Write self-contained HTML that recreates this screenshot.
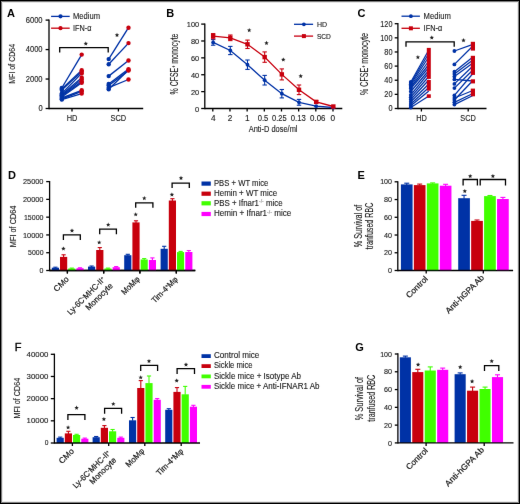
<!DOCTYPE html>
<html><head><meta charset="utf-8"><style>
html,body{margin:0;padding:0;background:#fff;}
body{width:520px;height:504px;overflow:hidden;}
.wrap{position:absolute;left:0;top:0;width:520px;height:504px;box-shadow:inset 1px 1px 0 #000,inset -1px -1px 0 #000,inset 2px 2px 0 #7a7a7a,inset -2px -2px 0 #808080,inset 3px 3px 0 #e4e4e4,inset -3px -3px 0 #e8e8e8;}
svg{position:absolute;left:0;top:0;will-change:transform;}
text{font-family:"Liberation Sans",sans-serif;}
</style></head><body>
<svg width="520" height="504" viewBox="0 0 520 504">
<defs><filter id="soft" x="0" y="0" width="520" height="504" filterUnits="userSpaceOnUse"><feConvolveMatrix order="3" kernelMatrix="0.0016 0.0371 0.0016 0.0371 0.8450 0.0371 0.0016 0.0371 0.0016" edgeMode="none"/></filter></defs>
<g filter="url(#soft)">
<text x="7" y="16.8" font-size="11" font-weight="bold" fill="#000">A</text>
<line x1="49" y1="19.45" x2="49" y2="109.15" stroke="#000" stroke-width="1.3"/>
<line x1="45.6" y1="20.1" x2="49" y2="20.1" stroke="#000" stroke-width="1.3"/>
<text x="42.6" y="22.95" font-size="8.4" text-anchor="end" textLength="16.9" lengthAdjust="spacingAndGlyphs" fill="#1a1a1a" stroke="#1a1a1a" stroke-width="0.12">6000</text>
<line x1="45.6" y1="49.57" x2="49" y2="49.57" stroke="#000" stroke-width="1.3"/>
<text x="42.6" y="52.42" font-size="8.4" text-anchor="end" textLength="16.9" lengthAdjust="spacingAndGlyphs" fill="#1a1a1a" stroke="#1a1a1a" stroke-width="0.12">4000</text>
<line x1="45.6" y1="79.03" x2="49" y2="79.03" stroke="#000" stroke-width="1.3"/>
<text x="42.6" y="81.88" font-size="8.4" text-anchor="end" textLength="16.9" lengthAdjust="spacingAndGlyphs" fill="#1a1a1a" stroke="#1a1a1a" stroke-width="0.12">2000</text>
<line x1="45.6" y1="108.5" x2="49" y2="108.5" stroke="#000" stroke-width="1.3"/>
<text x="42.6" y="111.35" font-size="8.4" text-anchor="end" textLength="4.2" lengthAdjust="spacingAndGlyphs" fill="#1a1a1a" stroke="#1a1a1a" stroke-width="0.12">0</text>
<line x1="49" y1="108.5" x2="143.2" y2="108.5" stroke="#000" stroke-width="1.3"/>
<line x1="72" y1="108.5" x2="72" y2="111.5" stroke="#000" stroke-width="1.3"/>
<line x1="118.4" y1="108.5" x2="118.4" y2="111.5" stroke="#000" stroke-width="1.3"/>
<text x="72" y="120.8" font-size="8.4" text-anchor="middle" textLength="10.7" lengthAdjust="spacingAndGlyphs" fill="#1a1a1a" stroke="#1a1a1a" stroke-width="0.12">HD</text>
<text x="118.4" y="120.8" font-size="8.4" text-anchor="middle" textLength="15.7" lengthAdjust="spacingAndGlyphs" fill="#1a1a1a" stroke="#1a1a1a" stroke-width="0.12">SCD</text>
<text x="14.9" y="63.8" font-size="9" text-anchor="middle" textLength="40" lengthAdjust="spacingAndGlyphs" transform="rotate(-90 14.9 63.8)" fill="#1a1a1a" stroke="#1a1a1a" stroke-width="0.12">MFI of CD64</text>
<line x1="51.1" y1="16.4" x2="69.7" y2="16.4" stroke="#0033a6" stroke-width="1.3"/>
<circle cx="60.5" cy="16.3" r="2.1" fill="#0033a6"/>
<text x="73" y="18.7" font-size="8.8" textLength="27" lengthAdjust="spacingAndGlyphs" fill="#1a1a1a" stroke="#1a1a1a" stroke-width="0.12">Medium</text>
<line x1="51.1" y1="28.2" x2="69.7" y2="28.2" stroke="#c8000f" stroke-width="1.3"/>
<circle cx="60.5" cy="28.2" r="2.1" fill="#c8000f"/>
<text x="73" y="30.7" font-size="8.8" textLength="18.5" lengthAdjust="spacingAndGlyphs" fill="#1a1a1a" stroke="#1a1a1a" stroke-width="0.12">IFN-&#945;</text>
<path d="M59.7,52.4V47.7H108.2V52.4" stroke="#000" stroke-width="1.3" fill="none"/>
<polygon points="85.80,41.40 86.41,42.86 87.99,42.99 86.78,44.02 87.15,45.56 85.80,44.73 84.45,45.56 84.82,44.02 83.61,42.99 85.19,42.86" fill="#222"/>
<polygon points="117.00,32.80 117.61,34.26 119.19,34.39 117.98,35.42 118.35,36.96 117.00,36.13 115.65,36.96 116.02,35.42 114.81,34.39 116.39,34.26" fill="#222"/>
<line x1="61.8" y1="88" x2="81.7" y2="54.6" stroke="#0033a6" stroke-width="1.35"/>
<line x1="61.8" y1="89" x2="81.7" y2="70.2" stroke="#0033a6" stroke-width="1.35"/>
<line x1="61.8" y1="90" x2="81.7" y2="71.8" stroke="#0033a6" stroke-width="1.35"/>
<line x1="61.8" y1="93.5" x2="81.7" y2="73.4" stroke="#0033a6" stroke-width="1.35"/>
<line x1="61.8" y1="94.5" x2="81.7" y2="77.8" stroke="#0033a6" stroke-width="1.35"/>
<line x1="61.8" y1="95.5" x2="81.7" y2="79.4" stroke="#0033a6" stroke-width="1.35"/>
<line x1="61.8" y1="96" x2="81.7" y2="81.6" stroke="#0033a6" stroke-width="1.35"/>
<line x1="61.8" y1="97" x2="81.7" y2="82.7" stroke="#0033a6" stroke-width="1.35"/>
<line x1="61.8" y1="98" x2="81.7" y2="90.3" stroke="#0033a6" stroke-width="1.35"/>
<line x1="61.8" y1="99" x2="81.7" y2="91.4" stroke="#0033a6" stroke-width="1.35"/>
<line x1="61.8" y1="99.6" x2="81.7" y2="93.6" stroke="#0033a6" stroke-width="1.35"/>
<circle cx="61.8" cy="88" r="2.2" fill="#0033a6"/>
<circle cx="61.8" cy="89" r="2.2" fill="#0033a6"/>
<circle cx="61.8" cy="90" r="2.2" fill="#0033a6"/>
<circle cx="61.8" cy="93.5" r="2.2" fill="#0033a6"/>
<circle cx="61.8" cy="94.5" r="2.2" fill="#0033a6"/>
<circle cx="61.8" cy="95.5" r="2.2" fill="#0033a6"/>
<circle cx="61.8" cy="96" r="2.2" fill="#0033a6"/>
<circle cx="61.8" cy="97" r="2.2" fill="#0033a6"/>
<circle cx="61.8" cy="98" r="2.2" fill="#0033a6"/>
<circle cx="61.8" cy="99" r="2.2" fill="#0033a6"/>
<circle cx="61.8" cy="99.6" r="2.2" fill="#0033a6"/>
<circle cx="81.7" cy="54.6" r="2.2" fill="#c8000f"/>
<circle cx="81.7" cy="70.2" r="2.2" fill="#c8000f"/>
<circle cx="81.7" cy="71.8" r="2.2" fill="#c8000f"/>
<circle cx="81.7" cy="73.4" r="2.2" fill="#c8000f"/>
<circle cx="81.7" cy="77.8" r="2.2" fill="#c8000f"/>
<circle cx="81.7" cy="79.4" r="2.2" fill="#c8000f"/>
<circle cx="81.7" cy="81.6" r="2.2" fill="#c8000f"/>
<circle cx="81.7" cy="82.7" r="2.2" fill="#c8000f"/>
<circle cx="81.7" cy="90.3" r="2.2" fill="#c8000f"/>
<circle cx="81.7" cy="91.4" r="2.2" fill="#c8000f"/>
<circle cx="81.7" cy="93.6" r="2.2" fill="#c8000f"/>
<line x1="108.7" y1="59.1" x2="128.5" y2="27.7" stroke="#0033a6" stroke-width="1.35"/>
<line x1="108.7" y1="64.2" x2="128.5" y2="43.1" stroke="#0033a6" stroke-width="1.35"/>
<line x1="108.7" y1="76.1" x2="128.5" y2="60.5" stroke="#0033a6" stroke-width="1.35"/>
<line x1="108.7" y1="84" x2="128.5" y2="69.1" stroke="#0033a6" stroke-width="1.35"/>
<line x1="108.7" y1="85.5" x2="128.5" y2="70.6" stroke="#0033a6" stroke-width="1.35"/>
<line x1="108.7" y1="87.7" x2="128.5" y2="79.5" stroke="#0033a6" stroke-width="1.35"/>
<line x1="108.7" y1="89.2" x2="128.5" y2="70" stroke="#0033a6" stroke-width="1.35"/>
<circle cx="108.7" cy="59.1" r="2.2" fill="#0033a6"/>
<circle cx="108.7" cy="64.2" r="2.2" fill="#0033a6"/>
<circle cx="108.7" cy="76.1" r="2.2" fill="#0033a6"/>
<circle cx="108.7" cy="84" r="2.2" fill="#0033a6"/>
<circle cx="108.7" cy="85.5" r="2.2" fill="#0033a6"/>
<circle cx="108.7" cy="87.7" r="2.2" fill="#0033a6"/>
<circle cx="108.7" cy="89.2" r="2.2" fill="#0033a6"/>
<circle cx="128.5" cy="27.7" r="2.2" fill="#c8000f"/>
<circle cx="128.5" cy="43.1" r="2.2" fill="#c8000f"/>
<circle cx="128.5" cy="60.5" r="2.2" fill="#c8000f"/>
<circle cx="128.5" cy="69.1" r="2.2" fill="#c8000f"/>
<circle cx="128.5" cy="70.6" r="2.2" fill="#c8000f"/>
<circle cx="128.5" cy="79.5" r="2.2" fill="#c8000f"/>
<circle cx="128.5" cy="70" r="2.2" fill="#c8000f"/>
<text x="166.2" y="16.6" font-size="11" font-weight="bold" fill="#000">B</text>
<line x1="204.8" y1="23.45" x2="204.8" y2="109.15" stroke="#000" stroke-width="1.3"/>
<line x1="201.2" y1="24.1" x2="204.8" y2="24.1" stroke="#000" stroke-width="1.3"/>
<text x="199.2" y="27.1" font-size="7.8" text-anchor="end" textLength="12.4" lengthAdjust="spacingAndGlyphs" fill="#1a1a1a" stroke="#1a1a1a" stroke-width="0.12">100</text>
<line x1="201.2" y1="40.98" x2="204.8" y2="40.98" stroke="#000" stroke-width="1.3"/>
<text x="199.2" y="43.98" font-size="7.8" text-anchor="end" textLength="8.3" lengthAdjust="spacingAndGlyphs" fill="#1a1a1a" stroke="#1a1a1a" stroke-width="0.12">80</text>
<line x1="201.2" y1="57.86" x2="204.8" y2="57.86" stroke="#000" stroke-width="1.3"/>
<text x="199.2" y="60.86" font-size="7.8" text-anchor="end" textLength="8.3" lengthAdjust="spacingAndGlyphs" fill="#1a1a1a" stroke="#1a1a1a" stroke-width="0.12">60</text>
<line x1="201.2" y1="74.74" x2="204.8" y2="74.74" stroke="#000" stroke-width="1.3"/>
<text x="199.2" y="77.74" font-size="7.8" text-anchor="end" textLength="8.3" lengthAdjust="spacingAndGlyphs" fill="#1a1a1a" stroke="#1a1a1a" stroke-width="0.12">40</text>
<line x1="201.2" y1="91.62" x2="204.8" y2="91.62" stroke="#000" stroke-width="1.3"/>
<text x="199.2" y="94.62" font-size="7.8" text-anchor="end" textLength="8.3" lengthAdjust="spacingAndGlyphs" fill="#1a1a1a" stroke="#1a1a1a" stroke-width="0.12">20</text>
<line x1="201.2" y1="108.5" x2="204.8" y2="108.5" stroke="#000" stroke-width="1.3"/>
<text x="199.2" y="111.5" font-size="7.8" text-anchor="end" textLength="4.2" lengthAdjust="spacingAndGlyphs" fill="#1a1a1a" stroke="#1a1a1a" stroke-width="0.12">0</text>
<line x1="204.8" y1="108.5" x2="342.3" y2="108.5" stroke="#000" stroke-width="1.3"/>
<line x1="212.8" y1="108.5" x2="212.8" y2="111.5" stroke="#000" stroke-width="1.3"/>
<line x1="229.97" y1="108.5" x2="229.97" y2="111.5" stroke="#000" stroke-width="1.3"/>
<line x1="247.14" y1="108.5" x2="247.14" y2="111.5" stroke="#000" stroke-width="1.3"/>
<line x1="264.31" y1="108.5" x2="264.31" y2="111.5" stroke="#000" stroke-width="1.3"/>
<line x1="281.48" y1="108.5" x2="281.48" y2="111.5" stroke="#000" stroke-width="1.3"/>
<line x1="298.65" y1="108.5" x2="298.65" y2="111.5" stroke="#000" stroke-width="1.3"/>
<line x1="315.82" y1="108.5" x2="315.82" y2="111.5" stroke="#000" stroke-width="1.3"/>
<line x1="332.99" y1="108.5" x2="332.99" y2="111.5" stroke="#000" stroke-width="1.3"/>
<text x="213.2" y="120.7" font-size="8.2" text-anchor="middle" textLength="4.6" lengthAdjust="spacingAndGlyphs" fill="#1a1a1a" stroke="#1a1a1a" stroke-width="0.12">4</text>
<text x="230" y="120.7" font-size="8.2" text-anchor="middle" textLength="4.6" lengthAdjust="spacingAndGlyphs" fill="#1a1a1a" stroke="#1a1a1a" stroke-width="0.12">2</text>
<text x="247.3" y="120.7" font-size="8.2" text-anchor="middle" textLength="4.6" lengthAdjust="spacingAndGlyphs" fill="#1a1a1a" stroke="#1a1a1a" stroke-width="0.12">1</text>
<text x="263" y="120.7" font-size="8.2" text-anchor="middle" textLength="10.6" lengthAdjust="spacingAndGlyphs" fill="#1a1a1a" stroke="#1a1a1a" stroke-width="0.12">0.5</text>
<text x="279.3" y="120.7" font-size="8.2" text-anchor="middle" textLength="14.6" lengthAdjust="spacingAndGlyphs" fill="#1a1a1a" stroke="#1a1a1a" stroke-width="0.12">0.25</text>
<text x="298.3" y="120.7" font-size="8.2" text-anchor="middle" textLength="15" lengthAdjust="spacingAndGlyphs" fill="#1a1a1a" stroke="#1a1a1a" stroke-width="0.12">0.13</text>
<text x="317.8" y="120.7" font-size="8.2" text-anchor="middle" textLength="15.4" lengthAdjust="spacingAndGlyphs" fill="#1a1a1a" stroke="#1a1a1a" stroke-width="0.12">0.06</text>
<text x="332.8" y="120.7" font-size="8.2" text-anchor="middle" textLength="4.6" lengthAdjust="spacingAndGlyphs" fill="#1a1a1a" stroke="#1a1a1a" stroke-width="0.12">0</text>
<text x="248.7" y="131.9" font-size="9" textLength="48.8" lengthAdjust="spacingAndGlyphs" fill="#1a1a1a" stroke="#1a1a1a" stroke-width="0.12">Anti-D dose/ml</text>
<text x="178.4" y="64" font-size="10" text-anchor="middle" textLength="61" lengthAdjust="spacingAndGlyphs" transform="rotate(-90 178.4 64)" fill="#1a1a1a" stroke="#1a1a1a" stroke-width="0.12">% CFSE<tspan font-size="5" dy="-3">+</tspan><tspan dy="3"> monocyte</tspan></text>
<polyline points="213.15,42.4 230.32,50.5 247.49,64.7 264.66,80.2 281.83,93.7 299,102.3 316.17,106.2 333.34,107.5" fill="none" stroke="#0033a6" stroke-width="1.3"/>
<polyline points="213.15,36.2 230.32,37.8 247.49,44.3 264.66,57.1 281.83,74.4 299,89.8 316.17,101.9 333.34,106.5" fill="none" stroke="#c8000f" stroke-width="1.3"/>
<line x1="213.15" y1="39.6" x2="213.15" y2="45.2" stroke="#0033a6" stroke-width="1.1"/>
<line x1="210.95" y1="39.6" x2="215.35" y2="39.6" stroke="#0033a6" stroke-width="1.1"/>
<line x1="210.95" y1="45.2" x2="215.35" y2="45.2" stroke="#0033a6" stroke-width="1.1"/>
<circle cx="213.15" cy="42.4" r="1.9" fill="#0033a6"/>
<line x1="230.32" y1="46.4" x2="230.32" y2="54.6" stroke="#0033a6" stroke-width="1.1"/>
<line x1="228.12" y1="46.4" x2="232.52" y2="46.4" stroke="#0033a6" stroke-width="1.1"/>
<line x1="228.12" y1="54.6" x2="232.52" y2="54.6" stroke="#0033a6" stroke-width="1.1"/>
<circle cx="230.32" cy="50.5" r="1.9" fill="#0033a6"/>
<line x1="247.49" y1="60" x2="247.49" y2="69.4" stroke="#0033a6" stroke-width="1.1"/>
<line x1="245.29" y1="60" x2="249.69" y2="60" stroke="#0033a6" stroke-width="1.1"/>
<line x1="245.29" y1="69.4" x2="249.69" y2="69.4" stroke="#0033a6" stroke-width="1.1"/>
<circle cx="247.49" cy="64.7" r="1.9" fill="#0033a6"/>
<line x1="264.66" y1="75.4" x2="264.66" y2="85" stroke="#0033a6" stroke-width="1.1"/>
<line x1="262.46" y1="75.4" x2="266.86" y2="75.4" stroke="#0033a6" stroke-width="1.1"/>
<line x1="262.46" y1="85" x2="266.86" y2="85" stroke="#0033a6" stroke-width="1.1"/>
<circle cx="264.66" cy="80.2" r="1.9" fill="#0033a6"/>
<line x1="281.83" y1="89.5" x2="281.83" y2="97.9" stroke="#0033a6" stroke-width="1.1"/>
<line x1="279.63" y1="89.5" x2="284.03" y2="89.5" stroke="#0033a6" stroke-width="1.1"/>
<line x1="279.63" y1="97.9" x2="284.03" y2="97.9" stroke="#0033a6" stroke-width="1.1"/>
<circle cx="281.83" cy="93.7" r="1.9" fill="#0033a6"/>
<line x1="299" y1="99.4" x2="299" y2="105.2" stroke="#0033a6" stroke-width="1.1"/>
<line x1="296.8" y1="99.4" x2="301.2" y2="99.4" stroke="#0033a6" stroke-width="1.1"/>
<line x1="296.8" y1="105.2" x2="301.2" y2="105.2" stroke="#0033a6" stroke-width="1.1"/>
<circle cx="299" cy="102.3" r="1.9" fill="#0033a6"/>
<circle cx="316.17" cy="106.2" r="1.9" fill="#0033a6"/>
<circle cx="333.34" cy="107.5" r="1.9" fill="#0033a6"/>
<line x1="213.15" y1="33.6" x2="213.15" y2="38.8" stroke="#c8000f" stroke-width="1.1"/>
<line x1="210.95" y1="33.6" x2="215.35" y2="33.6" stroke="#c8000f" stroke-width="1.1"/>
<line x1="210.95" y1="38.8" x2="215.35" y2="38.8" stroke="#c8000f" stroke-width="1.1"/>
<rect x="210.95" y="34" width="4.4" height="4.4" fill="#c8000f"/>
<line x1="230.32" y1="35" x2="230.32" y2="40.6" stroke="#c8000f" stroke-width="1.1"/>
<line x1="228.12" y1="35" x2="232.52" y2="35" stroke="#c8000f" stroke-width="1.1"/>
<line x1="228.12" y1="40.6" x2="232.52" y2="40.6" stroke="#c8000f" stroke-width="1.1"/>
<rect x="228.12" y="35.6" width="4.4" height="4.4" fill="#c8000f"/>
<line x1="247.49" y1="40.1" x2="247.49" y2="48.5" stroke="#c8000f" stroke-width="1.1"/>
<line x1="245.29" y1="40.1" x2="249.69" y2="40.1" stroke="#c8000f" stroke-width="1.1"/>
<line x1="245.29" y1="48.5" x2="249.69" y2="48.5" stroke="#c8000f" stroke-width="1.1"/>
<rect x="245.29" y="42.1" width="4.4" height="4.4" fill="#c8000f"/>
<line x1="264.66" y1="51.9" x2="264.66" y2="62.3" stroke="#c8000f" stroke-width="1.1"/>
<line x1="262.46" y1="51.9" x2="266.86" y2="51.9" stroke="#c8000f" stroke-width="1.1"/>
<line x1="262.46" y1="62.3" x2="266.86" y2="62.3" stroke="#c8000f" stroke-width="1.1"/>
<rect x="262.46" y="54.9" width="4.4" height="4.4" fill="#c8000f"/>
<line x1="281.83" y1="68.9" x2="281.83" y2="79.9" stroke="#c8000f" stroke-width="1.1"/>
<line x1="279.63" y1="68.9" x2="284.03" y2="68.9" stroke="#c8000f" stroke-width="1.1"/>
<line x1="279.63" y1="79.9" x2="284.03" y2="79.9" stroke="#c8000f" stroke-width="1.1"/>
<rect x="279.63" y="72.2" width="4.4" height="4.4" fill="#c8000f"/>
<line x1="299" y1="85" x2="299" y2="94.6" stroke="#c8000f" stroke-width="1.1"/>
<line x1="296.8" y1="85" x2="301.2" y2="85" stroke="#c8000f" stroke-width="1.1"/>
<line x1="296.8" y1="94.6" x2="301.2" y2="94.6" stroke="#c8000f" stroke-width="1.1"/>
<rect x="296.8" y="87.6" width="4.4" height="4.4" fill="#c8000f"/>
<line x1="316.17" y1="100.5" x2="316.17" y2="103.3" stroke="#c8000f" stroke-width="1.1"/>
<line x1="313.97" y1="100.5" x2="318.37" y2="100.5" stroke="#c8000f" stroke-width="1.1"/>
<line x1="313.97" y1="103.3" x2="318.37" y2="103.3" stroke="#c8000f" stroke-width="1.1"/>
<rect x="313.97" y="99.7" width="4.4" height="4.4" fill="#c8000f"/>
<rect x="331.14" y="104.3" width="4.4" height="4.4" fill="#c8000f"/>
<polygon points="249.20,28.00 249.81,29.46 251.39,29.59 250.18,30.62 250.55,32.16 249.20,31.34 247.85,32.16 248.22,30.62 247.01,29.59 248.59,29.46" fill="#222"/>
<polygon points="266.50,40.80 267.11,42.26 268.69,42.39 267.48,43.42 267.85,44.96 266.50,44.13 265.15,44.96 265.52,43.42 264.31,42.39 265.89,42.26" fill="#222"/>
<polygon points="283.30,57.40 283.91,58.86 285.49,58.99 284.28,60.02 284.65,61.56 283.30,60.73 281.95,61.56 282.32,60.02 281.11,58.99 282.69,58.86" fill="#222"/>
<polygon points="300.70,73.80 301.31,75.26 302.89,75.39 301.68,76.42 302.05,77.96 300.70,77.13 299.35,77.96 299.72,76.42 298.51,75.39 300.09,75.26" fill="#222"/>
<line x1="294" y1="24.3" x2="313.1" y2="24.3" stroke="#0033a6" stroke-width="1.3"/>
<circle cx="303.9" cy="24.3" r="1.9" fill="#0033a6"/>
<text x="316.9" y="26.7" font-size="7.3" textLength="10.1" lengthAdjust="spacingAndGlyphs" fill="#1a1a1a" stroke="#1a1a1a" stroke-width="0.12">HD</text>
<line x1="294" y1="36.1" x2="313.1" y2="36.1" stroke="#c8000f" stroke-width="1.3"/>
<rect x="301.9" y="34.1" width="4" height="4" fill="#c8000f"/>
<text x="316.9" y="38.6" font-size="7.3" textLength="14" lengthAdjust="spacingAndGlyphs" fill="#1a1a1a" stroke="#1a1a1a" stroke-width="0.12">SCD</text>
<text x="357.6" y="16.9" font-size="11" font-weight="bold" fill="#000">C</text>
<line x1="397.9" y1="23.05" x2="397.9" y2="109.15" stroke="#000" stroke-width="1.3"/>
<line x1="394.7" y1="23.7" x2="397.9" y2="23.7" stroke="#000" stroke-width="1.3"/>
<text x="392.5" y="26.6" font-size="8.4" text-anchor="end" textLength="12.2" lengthAdjust="spacingAndGlyphs" fill="#1a1a1a" stroke="#1a1a1a" stroke-width="0.12">120</text>
<line x1="394.7" y1="37.83" x2="397.9" y2="37.83" stroke="#000" stroke-width="1.3"/>
<text x="392.5" y="40.73" font-size="8.4" text-anchor="end" textLength="12.2" lengthAdjust="spacingAndGlyphs" fill="#1a1a1a" stroke="#1a1a1a" stroke-width="0.12">100</text>
<line x1="394.7" y1="51.97" x2="397.9" y2="51.97" stroke="#000" stroke-width="1.3"/>
<text x="392.5" y="54.87" font-size="8.4" text-anchor="end" textLength="8.2" lengthAdjust="spacingAndGlyphs" fill="#1a1a1a" stroke="#1a1a1a" stroke-width="0.12">80</text>
<line x1="394.7" y1="66.1" x2="397.9" y2="66.1" stroke="#000" stroke-width="1.3"/>
<text x="392.5" y="69" font-size="8.4" text-anchor="end" textLength="8.2" lengthAdjust="spacingAndGlyphs" fill="#1a1a1a" stroke="#1a1a1a" stroke-width="0.12">60</text>
<line x1="394.7" y1="80.23" x2="397.9" y2="80.23" stroke="#000" stroke-width="1.3"/>
<text x="392.5" y="83.13" font-size="8.4" text-anchor="end" textLength="8.2" lengthAdjust="spacingAndGlyphs" fill="#1a1a1a" stroke="#1a1a1a" stroke-width="0.12">40</text>
<line x1="394.7" y1="94.37" x2="397.9" y2="94.37" stroke="#000" stroke-width="1.3"/>
<text x="392.5" y="97.27" font-size="8.4" text-anchor="end" textLength="8.2" lengthAdjust="spacingAndGlyphs" fill="#1a1a1a" stroke="#1a1a1a" stroke-width="0.12">20</text>
<line x1="394.7" y1="108.5" x2="397.9" y2="108.5" stroke="#000" stroke-width="1.3"/>
<text x="392.5" y="111.4" font-size="8.4" text-anchor="end" textLength="4.1" lengthAdjust="spacingAndGlyphs" fill="#1a1a1a" stroke="#1a1a1a" stroke-width="0.12">0</text>
<line x1="397.9" y1="108.5" x2="486.5" y2="108.5" stroke="#000" stroke-width="1.3"/>
<line x1="421.4" y1="108.5" x2="421.4" y2="111.5" stroke="#000" stroke-width="1.3"/>
<line x1="468.2" y1="108.5" x2="468.2" y2="111.5" stroke="#000" stroke-width="1.3"/>
<text x="421.5" y="120.8" font-size="8.4" text-anchor="middle" textLength="10.7" lengthAdjust="spacingAndGlyphs" fill="#1a1a1a" stroke="#1a1a1a" stroke-width="0.12">HD</text>
<text x="468.1" y="120.8" font-size="8.4" text-anchor="middle" textLength="15.6" lengthAdjust="spacingAndGlyphs" fill="#1a1a1a" stroke="#1a1a1a" stroke-width="0.12">SCD</text>
<text x="367.6" y="64" font-size="10" text-anchor="middle" textLength="62" lengthAdjust="spacingAndGlyphs" transform="rotate(-90 367.6 64)" fill="#1a1a1a" stroke="#1a1a1a" stroke-width="0.12">% CFSE<tspan font-size="5" dy="-3">+</tspan><tspan dy="3"> monocyte</tspan></text>
<line x1="401.5" y1="16.2" x2="419.9" y2="16.2" stroke="#0033a6" stroke-width="1.3"/>
<circle cx="410.9" cy="16.2" r="1.9" fill="#0033a6"/>
<text x="423.6" y="18.6" font-size="8.8" textLength="27.2" lengthAdjust="spacingAndGlyphs" fill="#1a1a1a" stroke="#1a1a1a" stroke-width="0.12">Medium</text>
<line x1="401.5" y1="28.3" x2="419.9" y2="28.3" stroke="#c8000f" stroke-width="1.3"/>
<rect x="408.9" y="26.3" width="4" height="4" fill="#c8000f"/>
<text x="423.6" y="30.6" font-size="8.8" textLength="18.6" lengthAdjust="spacingAndGlyphs" fill="#1a1a1a" stroke="#1a1a1a" stroke-width="0.12">IFN-&#945;</text>
<path d="M406,46.8V41.8H454.2V46.8" stroke="#000" stroke-width="1.3" fill="none"/>
<polygon points="431.80,35.40 432.41,36.86 433.99,36.99 432.78,38.02 433.15,39.56 431.80,38.73 430.45,39.56 430.82,38.02 429.61,36.99 431.19,36.86" fill="#222"/>
<polygon points="417.90,55.00 418.51,56.46 420.09,56.59 418.88,57.62 419.25,59.16 417.90,58.34 416.55,59.16 416.92,57.62 415.71,56.59 417.29,56.46" fill="#222"/>
<polygon points="463.50,38.10 464.11,39.56 465.69,39.69 464.48,40.72 464.85,42.26 463.50,41.43 462.15,42.26 462.52,40.72 461.31,39.69 462.89,39.56" fill="#222"/>
<line x1="410.8" y1="82" x2="428.8" y2="50" stroke="#0033a6" stroke-width="1.25"/>
<line x1="410.8" y1="83" x2="428.8" y2="53.5" stroke="#0033a6" stroke-width="1.25"/>
<line x1="410.8" y1="84.2" x2="428.8" y2="57" stroke="#0033a6" stroke-width="1.25"/>
<line x1="410.8" y1="85.5" x2="428.8" y2="61" stroke="#0033a6" stroke-width="1.25"/>
<line x1="410.8" y1="87" x2="428.8" y2="64.5" stroke="#0033a6" stroke-width="1.25"/>
<line x1="410.8" y1="88.5" x2="428.8" y2="67.5" stroke="#0033a6" stroke-width="1.25"/>
<line x1="410.8" y1="91.5" x2="428.8" y2="70.5" stroke="#0033a6" stroke-width="1.25"/>
<line x1="410.8" y1="94.9" x2="428.8" y2="73" stroke="#0033a6" stroke-width="1.25"/>
<line x1="410.8" y1="97.2" x2="428.8" y2="76.5" stroke="#0033a6" stroke-width="1.25"/>
<line x1="410.8" y1="99.5" x2="428.8" y2="80" stroke="#0033a6" stroke-width="1.25"/>
<line x1="410.8" y1="101.8" x2="428.8" y2="84" stroke="#0033a6" stroke-width="1.25"/>
<line x1="410.8" y1="104" x2="428.8" y2="87.5" stroke="#0033a6" stroke-width="1.25"/>
<line x1="410.8" y1="105.8" x2="428.8" y2="91" stroke="#0033a6" stroke-width="1.25"/>
<line x1="410.8" y1="107.5" x2="428.8" y2="96" stroke="#0033a6" stroke-width="1.25"/>
<circle cx="410.8" cy="82" r="1.9" fill="#0033a6"/>
<circle cx="410.8" cy="83" r="1.9" fill="#0033a6"/>
<circle cx="410.8" cy="84.2" r="1.9" fill="#0033a6"/>
<circle cx="410.8" cy="85.5" r="1.9" fill="#0033a6"/>
<circle cx="410.8" cy="87" r="1.9" fill="#0033a6"/>
<circle cx="410.8" cy="88.5" r="1.9" fill="#0033a6"/>
<circle cx="410.8" cy="91.5" r="1.9" fill="#0033a6"/>
<circle cx="410.8" cy="94.9" r="1.9" fill="#0033a6"/>
<circle cx="410.8" cy="97.2" r="1.9" fill="#0033a6"/>
<circle cx="410.8" cy="99.5" r="1.9" fill="#0033a6"/>
<circle cx="410.8" cy="101.8" r="1.9" fill="#0033a6"/>
<circle cx="410.8" cy="104" r="1.9" fill="#0033a6"/>
<circle cx="410.8" cy="105.8" r="1.9" fill="#0033a6"/>
<circle cx="410.8" cy="107.5" r="1.9" fill="#0033a6"/>
<rect x="426.8" y="47.9" width="4" height="31" fill="#c8000f"/>
<rect x="426.8" y="80" width="4" height="10.7" fill="#c8000f"/>
<rect x="426.8" y="94.3" width="4" height="3.6" fill="#c8000f"/>
<line x1="454.4" y1="51" x2="472.9" y2="44.3" stroke="#0033a6" stroke-width="1.3"/>
<line x1="454.4" y1="64.4" x2="472.9" y2="46" stroke="#0033a6" stroke-width="1.3"/>
<line x1="454.4" y1="71.7" x2="472.9" y2="57" stroke="#0033a6" stroke-width="1.3"/>
<line x1="454.4" y1="73.9" x2="472.9" y2="60" stroke="#0033a6" stroke-width="1.3"/>
<line x1="454.4" y1="76.6" x2="472.9" y2="63" stroke="#0033a6" stroke-width="1.3"/>
<line x1="454.4" y1="79.4" x2="472.9" y2="81" stroke="#0033a6" stroke-width="1.3"/>
<line x1="454.4" y1="83.9" x2="472.9" y2="66" stroke="#0033a6" stroke-width="1.3"/>
<line x1="454.4" y1="88.1" x2="472.9" y2="70" stroke="#0033a6" stroke-width="1.3"/>
<line x1="454.4" y1="95.4" x2="472.9" y2="73.5" stroke="#0033a6" stroke-width="1.3"/>
<line x1="454.4" y1="98" x2="472.9" y2="90.5" stroke="#0033a6" stroke-width="1.3"/>
<line x1="454.4" y1="100" x2="472.9" y2="80.5" stroke="#0033a6" stroke-width="1.3"/>
<line x1="454.4" y1="102.3" x2="472.9" y2="93.5" stroke="#0033a6" stroke-width="1.3"/>
<line x1="454.4" y1="104.6" x2="472.9" y2="95.5" stroke="#0033a6" stroke-width="1.3"/>
<circle cx="454.4" cy="51" r="1.9" fill="#0033a6"/>
<circle cx="454.4" cy="64.4" r="1.9" fill="#0033a6"/>
<circle cx="454.4" cy="71.7" r="1.9" fill="#0033a6"/>
<circle cx="454.4" cy="73.9" r="1.9" fill="#0033a6"/>
<circle cx="454.4" cy="76.6" r="1.9" fill="#0033a6"/>
<circle cx="454.4" cy="79.4" r="1.9" fill="#0033a6"/>
<circle cx="454.4" cy="83.9" r="1.9" fill="#0033a6"/>
<circle cx="454.4" cy="88.1" r="1.9" fill="#0033a6"/>
<circle cx="454.4" cy="95.4" r="1.9" fill="#0033a6"/>
<circle cx="454.4" cy="98" r="1.9" fill="#0033a6"/>
<circle cx="454.4" cy="100" r="1.9" fill="#0033a6"/>
<circle cx="454.4" cy="102.3" r="1.9" fill="#0033a6"/>
<circle cx="454.4" cy="104.6" r="1.9" fill="#0033a6"/>
<rect x="470.8" y="41.8" width="4.2" height="8.8" fill="#c8000f"/>
<rect x="470.8" y="55.8" width="4.2" height="19.1" fill="#c8000f"/>
<rect x="470.8" y="79.3" width="4.2" height="4.1" fill="#c8000f"/>
<rect x="470.8" y="88.6" width="4.2" height="7.7" fill="#c8000f"/>
<text x="8" y="178.8" font-size="11" font-weight="bold" fill="#000">D</text>
<line x1="49.6" y1="180.95" x2="49.6" y2="271.15" stroke="#000" stroke-width="1.3"/>
<line x1="46.2" y1="181.6" x2="49.6" y2="181.6" stroke="#000" stroke-width="1.3"/>
<text x="43.5" y="184.25" font-size="7.6" text-anchor="end" textLength="20.6" lengthAdjust="spacingAndGlyphs" fill="#1a1a1a" stroke="#1a1a1a" stroke-width="0.12">25000</text>
<line x1="46.2" y1="199.38" x2="49.6" y2="199.38" stroke="#000" stroke-width="1.3"/>
<text x="43.5" y="202.03" font-size="7.6" text-anchor="end" textLength="20.6" lengthAdjust="spacingAndGlyphs" fill="#1a1a1a" stroke="#1a1a1a" stroke-width="0.12">20000</text>
<line x1="46.2" y1="217.16" x2="49.6" y2="217.16" stroke="#000" stroke-width="1.3"/>
<text x="43.5" y="219.81" font-size="7.6" text-anchor="end" textLength="19.6" lengthAdjust="spacingAndGlyphs" fill="#1a1a1a" stroke="#1a1a1a" stroke-width="0.12">15000</text>
<line x1="46.2" y1="234.94" x2="49.6" y2="234.94" stroke="#000" stroke-width="1.3"/>
<text x="43.5" y="237.59" font-size="7.6" text-anchor="end" textLength="20.6" lengthAdjust="spacingAndGlyphs" fill="#1a1a1a" stroke="#1a1a1a" stroke-width="0.12">10000</text>
<line x1="46.2" y1="252.72" x2="49.6" y2="252.72" stroke="#000" stroke-width="1.3"/>
<text x="43.5" y="255.37" font-size="7.6" text-anchor="end" textLength="15.4" lengthAdjust="spacingAndGlyphs" fill="#1a1a1a" stroke="#1a1a1a" stroke-width="0.12">5000</text>
<line x1="46.2" y1="270.5" x2="49.6" y2="270.5" stroke="#000" stroke-width="1.3"/>
<text x="43.5" y="273.15" font-size="7.6" text-anchor="end" textLength="3.9" lengthAdjust="spacingAndGlyphs" fill="#1a1a1a" stroke="#1a1a1a" stroke-width="0.12">0</text>
<line x1="49.6" y1="270.5" x2="195.3" y2="270.5" stroke="#000" stroke-width="1.3"/>
<line x1="67.4" y1="270.5" x2="67.4" y2="273.5" stroke="#000" stroke-width="1.3"/>
<line x1="103.7" y1="270.5" x2="103.7" y2="273.5" stroke="#000" stroke-width="1.3"/>
<line x1="139.9" y1="270.5" x2="139.9" y2="273.5" stroke="#000" stroke-width="1.3"/>
<line x1="176.3" y1="270.5" x2="176.3" y2="273.5" stroke="#000" stroke-width="1.3"/>
<text x="16.2" y="226.4" font-size="9" text-anchor="middle" textLength="41.5" lengthAdjust="spacingAndGlyphs" transform="rotate(-90 16.2 226.4)" fill="#1a1a1a" stroke="#1a1a1a" stroke-width="0.12">MFI of CD64</text>
<rect x="51.8" y="267.7" width="7.2" height="2.8" fill="#0033a6"/>
<line x1="55.4" y1="267.2" x2="55.4" y2="268.2" stroke="#0033a6" stroke-width="1.1"/>
<line x1="53.3" y1="267.2" x2="57.5" y2="267.2" stroke="#0033a6" stroke-width="1.1"/>
<rect x="60" y="256.9" width="7.2" height="13.6" fill="#c8000f"/>
<line x1="63.6" y1="254.8" x2="63.6" y2="257.4" stroke="#c8000f" stroke-width="1.1"/>
<line x1="61.5" y1="254.8" x2="65.7" y2="254.8" stroke="#c8000f" stroke-width="1.1"/>
<rect x="68.2" y="268.5" width="7.2" height="2" fill="#40ff00"/>
<line x1="71.8" y1="268.1" x2="71.8" y2="269" stroke="#40ff00" stroke-width="1.1"/>
<line x1="69.7" y1="268.1" x2="73.9" y2="268.1" stroke="#40ff00" stroke-width="1.1"/>
<rect x="76.4" y="268.2" width="7.2" height="2.3" fill="#ff00ff"/>
<line x1="80" y1="267.8" x2="80" y2="268.7" stroke="#ff00ff" stroke-width="1.1"/>
<line x1="77.9" y1="267.8" x2="82.1" y2="267.8" stroke="#ff00ff" stroke-width="1.1"/>
<rect x="88" y="266.6" width="7.2" height="3.9" fill="#0033a6"/>
<line x1="91.6" y1="266" x2="91.6" y2="267.1" stroke="#0033a6" stroke-width="1.1"/>
<line x1="89.5" y1="266" x2="93.7" y2="266" stroke="#0033a6" stroke-width="1.1"/>
<rect x="96.2" y="250" width="7.2" height="20.5" fill="#c8000f"/>
<line x1="99.8" y1="247.6" x2="99.8" y2="250.5" stroke="#c8000f" stroke-width="1.1"/>
<line x1="97.7" y1="247.6" x2="101.9" y2="247.6" stroke="#c8000f" stroke-width="1.1"/>
<rect x="104.4" y="268.5" width="7.2" height="2" fill="#40ff00"/>
<line x1="108" y1="268.1" x2="108" y2="269" stroke="#40ff00" stroke-width="1.1"/>
<line x1="105.9" y1="268.1" x2="110.1" y2="268.1" stroke="#40ff00" stroke-width="1.1"/>
<rect x="112.6" y="267.2" width="7.2" height="3.3" fill="#ff00ff"/>
<line x1="116.2" y1="266.6" x2="116.2" y2="267.7" stroke="#ff00ff" stroke-width="1.1"/>
<line x1="114.1" y1="266.6" x2="118.3" y2="266.6" stroke="#ff00ff" stroke-width="1.1"/>
<rect x="124.2" y="255.2" width="7.2" height="15.3" fill="#0033a6"/>
<line x1="127.8" y1="254.3" x2="127.8" y2="255.7" stroke="#0033a6" stroke-width="1.1"/>
<line x1="125.7" y1="254.3" x2="129.9" y2="254.3" stroke="#0033a6" stroke-width="1.1"/>
<rect x="132.4" y="222.4" width="7.2" height="48.1" fill="#c8000f"/>
<line x1="136" y1="220.8" x2="136" y2="222.9" stroke="#c8000f" stroke-width="1.1"/>
<line x1="133.9" y1="220.8" x2="138.1" y2="220.8" stroke="#c8000f" stroke-width="1.1"/>
<rect x="140.6" y="259.5" width="7.2" height="11" fill="#40ff00"/>
<line x1="144.2" y1="258.6" x2="144.2" y2="260" stroke="#40ff00" stroke-width="1.1"/>
<line x1="142.1" y1="258.6" x2="146.3" y2="258.6" stroke="#40ff00" stroke-width="1.1"/>
<rect x="148.8" y="260" width="7.2" height="10.5" fill="#ff00ff"/>
<line x1="152.4" y1="257.9" x2="152.4" y2="260.5" stroke="#ff00ff" stroke-width="1.1"/>
<line x1="150.3" y1="257.9" x2="154.5" y2="257.9" stroke="#ff00ff" stroke-width="1.1"/>
<rect x="160.6" y="248.8" width="7.2" height="21.7" fill="#0033a6"/>
<line x1="164.2" y1="246.3" x2="164.2" y2="249.3" stroke="#0033a6" stroke-width="1.1"/>
<line x1="162.1" y1="246.3" x2="166.3" y2="246.3" stroke="#0033a6" stroke-width="1.1"/>
<rect x="168.8" y="200.5" width="7.2" height="70" fill="#c8000f"/>
<line x1="172.4" y1="198.7" x2="172.4" y2="201" stroke="#c8000f" stroke-width="1.1"/>
<line x1="170.3" y1="198.7" x2="174.5" y2="198.7" stroke="#c8000f" stroke-width="1.1"/>
<rect x="177" y="252.1" width="7.2" height="18.4" fill="#40ff00"/>
<line x1="180.6" y1="251.4" x2="180.6" y2="252.6" stroke="#40ff00" stroke-width="1.1"/>
<line x1="178.5" y1="251.4" x2="182.7" y2="251.4" stroke="#40ff00" stroke-width="1.1"/>
<rect x="185.2" y="252" width="7.2" height="18.5" fill="#ff00ff"/>
<line x1="188.8" y1="250.6" x2="188.8" y2="252.5" stroke="#ff00ff" stroke-width="1.1"/>
<line x1="186.7" y1="250.6" x2="190.9" y2="250.6" stroke="#ff00ff" stroke-width="1.1"/>
<line x1="49.6" y1="270.5" x2="195.3" y2="270.5" stroke="#000" stroke-width="1.3"/>
<line x1="67.4" y1="270.5" x2="67.4" y2="273.5" stroke="#000" stroke-width="1.3"/>
<line x1="103.7" y1="270.5" x2="103.7" y2="273.5" stroke="#000" stroke-width="1.3"/>
<line x1="139.9" y1="270.5" x2="139.9" y2="273.5" stroke="#000" stroke-width="1.3"/>
<line x1="176.3" y1="270.5" x2="176.3" y2="273.5" stroke="#000" stroke-width="1.3"/>
<path d="M63.4,240V234.9H80.3V240" stroke="#000" stroke-width="1.3" fill="none"/>
<polygon points="72.00,228.40 72.61,229.86 74.19,229.99 72.98,231.02 73.35,232.56 72.00,231.73 70.65,232.56 71.02,231.02 69.81,229.99 71.39,229.86" fill="#222"/>
<polygon points="63.40,246.40 64.01,247.86 65.59,247.99 64.38,249.02 64.75,250.56 63.40,249.73 62.05,250.56 62.42,249.02 61.21,247.99 62.79,247.86" fill="#222"/>
<path d="M99.7,234.2V229.2H116.4V234.2" stroke="#000" stroke-width="1.3" fill="none"/>
<polygon points="108.20,222.50 108.81,223.96 110.39,224.09 109.18,225.12 109.55,226.66 108.20,225.83 106.85,226.66 107.22,225.12 106.01,224.09 107.59,223.96" fill="#222"/>
<polygon points="99.20,240.20 99.81,241.66 101.39,241.79 100.18,242.82 100.55,244.36 99.20,243.53 97.85,244.36 98.22,242.82 97.01,241.79 98.59,241.66" fill="#222"/>
<path d="M135.7,207.7V202.9H152.9V207.7" stroke="#000" stroke-width="1.3" fill="none"/>
<polygon points="144.30,196.00 144.91,197.46 146.49,197.59 145.28,198.62 145.65,200.16 144.30,199.33 142.95,200.16 143.32,198.62 142.11,197.59 143.69,197.46" fill="#222"/>
<polygon points="135.70,212.20 136.31,213.66 137.89,213.79 136.68,214.82 137.05,216.36 135.70,215.53 134.35,216.36 134.72,214.82 133.51,213.79 135.09,213.66" fill="#222"/>
<path d="M172.1,188V183.1H189.3V188" stroke="#000" stroke-width="1.3" fill="none"/>
<polygon points="181.00,175.80 181.61,177.26 183.19,177.39 181.98,178.42 182.35,179.96 181.00,179.13 179.65,179.96 180.02,178.42 178.81,177.39 180.39,177.26" fill="#222"/>
<polygon points="171.90,192.40 172.51,193.86 174.09,193.99 172.88,195.02 173.25,196.56 171.90,195.73 170.55,196.56 170.92,195.02 169.71,193.99 171.29,193.86" fill="#222"/>
<rect x="201.5" y="181.5" width="9.3" height="4.2" fill="#0033a6"/>
<text x="214" y="186" font-size="8.4" textLength="54.3" lengthAdjust="spacingAndGlyphs" fill="#1a1a1a" stroke="#1a1a1a" stroke-width="0.12">PBS + WT mice</text>
<rect x="201.5" y="191.6" width="9.3" height="4.2" fill="#c8000f"/>
<text x="214" y="196" font-size="8.4" textLength="63.1" lengthAdjust="spacingAndGlyphs" fill="#1a1a1a" stroke="#1a1a1a" stroke-width="0.12">Hemin + WT mice</text>
<rect x="201.5" y="201.2" width="9.3" height="4.2" fill="#40ff00"/>
<text x="214" y="205.7" font-size="8.4" textLength="68.6" lengthAdjust="spacingAndGlyphs" fill="#1a1a1a" stroke="#1a1a1a" stroke-width="0.12">PBS + Ifnar1<tspan font-size="5.4" dy="-2.6" fill="#666" stroke="none">-/-</tspan><tspan dy="2.5"> mice</tspan></text>
<rect x="201.5" y="211.9" width="9.3" height="4.2" fill="#ff00ff"/>
<text x="214" y="216.1" font-size="8.4" textLength="77.2" lengthAdjust="spacingAndGlyphs" fill="#1a1a1a" stroke="#1a1a1a" stroke-width="0.12">Hemin + Ifnar1<tspan font-size="5.4" dy="-2.6" fill="#666" stroke="none">-/-</tspan><tspan dy="2.5"> mice</tspan></text>
<text x="69.4" y="279.75" font-size="8.2" text-anchor="end" textLength="17.72" lengthAdjust="spacingAndGlyphs" transform="rotate(-45 69.4 279.75)" fill="#111" stroke="#111" stroke-width="0.18">CMo</text>
<text x="105.65" y="280.15" font-size="8.2" text-anchor="end" textLength="49.84" lengthAdjust="spacingAndGlyphs" transform="rotate(-45 105.65 280.15)" fill="#111" stroke="#111" stroke-width="0.18">Ly-6C<tspan font-size="4.5" dy="-2.5">-</tspan><tspan dy="2.5">MHC-II</tspan><tspan font-size="4.5" dy="-2.5">+</tspan></text>
<text x="113.3" y="286.4" font-size="8.2" text-anchor="end" textLength="34.58" lengthAdjust="spacingAndGlyphs" transform="rotate(-45 113.3 286.4)" fill="#111" stroke="#111" stroke-width="0.18">Monocyte</text>
<text x="140.2" y="279.65" font-size="8.2" text-anchor="end" textLength="22.03" lengthAdjust="spacingAndGlyphs" transform="rotate(-45 140.2 279.65)" fill="#111" stroke="#111" stroke-width="0.18">MoM&#966;</text>
<text x="178.3" y="280" font-size="8.2" text-anchor="end" textLength="33.3" lengthAdjust="spacingAndGlyphs" transform="rotate(-45 178.3 280)" fill="#111" stroke="#111" stroke-width="0.18">Tim-4<tspan font-size="4.5" dy="-2.5">+</tspan><tspan dy="2.5">M&#966;</tspan></text>
<text x="428.45" y="279.3" font-size="8.2" text-anchor="end" textLength="27.24" lengthAdjust="spacingAndGlyphs" transform="rotate(-45 428.45 279.3)" fill="#111" stroke="#111" stroke-width="0.18">Control</text>
<text x="484.65" y="278.2" font-size="8.2" text-anchor="end" textLength="50.74" lengthAdjust="spacingAndGlyphs" transform="rotate(-45 484.65 278.2)" fill="#111" stroke="#111" stroke-width="0.18">Anti-hGPA Ab</text>
<text x="74.65" y="451.7" font-size="8.2" text-anchor="end" textLength="17.86" lengthAdjust="spacingAndGlyphs" transform="rotate(-45 74.65 451.7)" fill="#111" stroke="#111" stroke-width="0.18">CMo</text>
<text x="111.15" y="453.6" font-size="8.2" text-anchor="end" textLength="49.79" lengthAdjust="spacingAndGlyphs" transform="rotate(-45 111.15 453.6)" fill="#111" stroke="#111" stroke-width="0.18">Ly-6C<tspan font-size="4.5" dy="-2.5">-</tspan><tspan dy="2.5">MHC-II</tspan><tspan font-size="4.5" dy="-2.5">+</tspan></text>
<text x="116.75" y="460.8" font-size="8.2" text-anchor="end" textLength="33.79" lengthAdjust="spacingAndGlyphs" transform="rotate(-45 116.75 460.8)" fill="#111" stroke="#111" stroke-width="0.18">Monocyte</text>
<text x="145" y="451.65" font-size="8.2" text-anchor="end" textLength="22.95" lengthAdjust="spacingAndGlyphs" transform="rotate(-45 145 451.65)" fill="#111" stroke="#111" stroke-width="0.18">MoM&#966;</text>
<text x="183.85" y="451.75" font-size="8.2" text-anchor="end" textLength="34.3" lengthAdjust="spacingAndGlyphs" transform="rotate(-45 183.85 451.75)" fill="#111" stroke="#111" stroke-width="0.18">Tim-4<tspan font-size="4.5" dy="-2.5">+</tspan><tspan dy="2.5">M&#966;</tspan></text>
<text x="428.45" y="451.1" font-size="8.2" text-anchor="end" textLength="27.24" lengthAdjust="spacingAndGlyphs" transform="rotate(-45 428.45 451.1)" fill="#111" stroke="#111" stroke-width="0.18">Control</text>
<text x="484.65" y="450.5" font-size="8.2" text-anchor="end" textLength="51.46" lengthAdjust="spacingAndGlyphs" transform="rotate(-45 484.65 450.5)" fill="#111" stroke="#111" stroke-width="0.18">Anti-hGPA Ab</text>
<text x="357.6" y="178.8" font-size="11" font-weight="bold" fill="#000">E</text>
<line x1="397.8" y1="181.15" x2="397.8" y2="271.15" stroke="#000" stroke-width="1.3"/>
<line x1="394.6" y1="181.8" x2="397.8" y2="181.8" stroke="#000" stroke-width="1.3"/>
<text x="392" y="184.4" font-size="8" text-anchor="end" textLength="11.8" lengthAdjust="spacingAndGlyphs" fill="#1a1a1a" stroke="#1a1a1a" stroke-width="0.12">100</text>
<line x1="394.6" y1="199.54" x2="397.8" y2="199.54" stroke="#000" stroke-width="1.3"/>
<text x="392" y="202.14" font-size="8" text-anchor="end" textLength="8" lengthAdjust="spacingAndGlyphs" fill="#1a1a1a" stroke="#1a1a1a" stroke-width="0.12">80</text>
<line x1="394.6" y1="217.28" x2="397.8" y2="217.28" stroke="#000" stroke-width="1.3"/>
<text x="392" y="219.88" font-size="8" text-anchor="end" textLength="8" lengthAdjust="spacingAndGlyphs" fill="#1a1a1a" stroke="#1a1a1a" stroke-width="0.12">60</text>
<line x1="394.6" y1="235.02" x2="397.8" y2="235.02" stroke="#000" stroke-width="1.3"/>
<text x="392" y="237.62" font-size="8" text-anchor="end" textLength="8" lengthAdjust="spacingAndGlyphs" fill="#1a1a1a" stroke="#1a1a1a" stroke-width="0.12">40</text>
<line x1="394.6" y1="252.76" x2="397.8" y2="252.76" stroke="#000" stroke-width="1.3"/>
<text x="392" y="255.36" font-size="8" text-anchor="end" textLength="8" lengthAdjust="spacingAndGlyphs" fill="#1a1a1a" stroke="#1a1a1a" stroke-width="0.12">20</text>
<line x1="394.6" y1="270.5" x2="397.8" y2="270.5" stroke="#000" stroke-width="1.3"/>
<text x="392" y="273.1" font-size="8" text-anchor="end" textLength="4" lengthAdjust="spacingAndGlyphs" fill="#1a1a1a" stroke="#1a1a1a" stroke-width="0.12">0</text>
<text x="362.1" y="226" font-size="10.3" text-anchor="middle" textLength="42.7" lengthAdjust="spacingAndGlyphs" transform="rotate(-90 362.1 226)" fill="#1a1a1a" stroke="#1a1a1a" stroke-width="0.12">% Survival of</text>
<text x="372.9" y="226" font-size="10.3" text-anchor="middle" textLength="46.6" lengthAdjust="spacingAndGlyphs" transform="rotate(-90 372.9 226)" fill="#1a1a1a" stroke="#1a1a1a" stroke-width="0.12">tranfused RBC</text>
<rect x="400.9" y="184.4" width="11.7" height="86.1" fill="#0033a6"/>
<line x1="406.75" y1="183.2" x2="406.75" y2="184.9" stroke="#0033a6" stroke-width="1.1"/>
<line x1="404.25" y1="183.2" x2="409.25" y2="183.2" stroke="#0033a6" stroke-width="1.1"/>
<rect x="413.85" y="185.1" width="11.7" height="85.4" fill="#c8000f"/>
<line x1="419.7" y1="184.1" x2="419.7" y2="185.6" stroke="#c8000f" stroke-width="1.1"/>
<line x1="417.2" y1="184.1" x2="422.2" y2="184.1" stroke="#c8000f" stroke-width="1.1"/>
<rect x="426.8" y="183.4" width="11.7" height="87.1" fill="#40ff00"/>
<line x1="432.65" y1="182.9" x2="432.65" y2="183.9" stroke="#40ff00" stroke-width="1.1"/>
<line x1="430.15" y1="182.9" x2="435.15" y2="182.9" stroke="#40ff00" stroke-width="1.1"/>
<rect x="439.75" y="185.7" width="11.7" height="84.8" fill="#ff00ff"/>
<line x1="445.6" y1="184.3" x2="445.6" y2="186.2" stroke="#ff00ff" stroke-width="1.1"/>
<line x1="443.1" y1="184.3" x2="448.1" y2="184.3" stroke="#ff00ff" stroke-width="1.1"/>
<rect x="458.2" y="198.2" width="11.7" height="72.3" fill="#0033a6"/>
<line x1="464.05" y1="195.3" x2="464.05" y2="198.7" stroke="#0033a6" stroke-width="1.1"/>
<line x1="461.55" y1="195.3" x2="466.55" y2="195.3" stroke="#0033a6" stroke-width="1.1"/>
<rect x="471.15" y="220.9" width="11.7" height="49.6" fill="#c8000f"/>
<line x1="477" y1="220" x2="477" y2="221.4" stroke="#c8000f" stroke-width="1.1"/>
<line x1="474.5" y1="220" x2="479.5" y2="220" stroke="#c8000f" stroke-width="1.1"/>
<rect x="484.1" y="196.1" width="11.7" height="74.4" fill="#40ff00"/>
<line x1="489.95" y1="195.5" x2="489.95" y2="196.6" stroke="#40ff00" stroke-width="1.1"/>
<line x1="487.45" y1="195.5" x2="492.45" y2="195.5" stroke="#40ff00" stroke-width="1.1"/>
<rect x="497.05" y="199" width="11.7" height="71.5" fill="#ff00ff"/>
<line x1="502.9" y1="197.4" x2="502.9" y2="199.5" stroke="#ff00ff" stroke-width="1.1"/>
<line x1="500.4" y1="197.4" x2="505.4" y2="197.4" stroke="#ff00ff" stroke-width="1.1"/>
<line x1="397.8" y1="270.5" x2="513.1" y2="270.5" stroke="#000" stroke-width="1.3"/>
<line x1="426.2" y1="270.5" x2="426.2" y2="273.5" stroke="#000" stroke-width="1.3"/>
<line x1="483.3" y1="270.5" x2="483.3" y2="273.5" stroke="#000" stroke-width="1.3"/>
<path d="M463.1,185.5V179.5H477.4V185.5" stroke="#000" stroke-width="1.3" fill="none"/>
<polygon points="470.20,173.90 470.81,175.36 472.39,175.49 471.18,176.52 471.55,178.06 470.20,177.23 468.85,178.06 469.22,176.52 468.01,175.49 469.59,175.36" fill="#222"/>
<path d="M480.2,185.5V179.5H505.5V185.5" stroke="#000" stroke-width="1.3" fill="none"/>
<polygon points="492.90,173.90 493.51,175.36 495.09,175.49 493.88,176.52 494.25,178.06 492.90,177.23 491.55,178.06 491.92,176.52 490.71,175.49 492.29,175.36" fill="#222"/>
<polygon points="464.80,188.90 465.41,190.36 466.99,190.49 465.78,191.52 466.15,193.06 464.80,192.23 463.45,193.06 463.82,191.52 462.61,190.49 464.19,190.36" fill="#222"/>
<text x="14.7" y="350.8" font-size="11" fill="#000" stroke="#000" stroke-width="0.35">F</text>
<line x1="54.4" y1="353.65" x2="54.4" y2="443.65" stroke="#000" stroke-width="1.3"/>
<line x1="50.8" y1="354.3" x2="54.4" y2="354.3" stroke="#000" stroke-width="1.3"/>
<text x="48.4" y="356.7" font-size="7.6" text-anchor="end" textLength="21.8" lengthAdjust="spacingAndGlyphs" fill="#1a1a1a" stroke="#1a1a1a" stroke-width="0.12">40000</text>
<line x1="50.8" y1="376.48" x2="54.4" y2="376.48" stroke="#000" stroke-width="1.3"/>
<text x="48.4" y="378.88" font-size="7.6" text-anchor="end" textLength="21.8" lengthAdjust="spacingAndGlyphs" fill="#1a1a1a" stroke="#1a1a1a" stroke-width="0.12">30000</text>
<line x1="50.8" y1="398.65" x2="54.4" y2="398.65" stroke="#000" stroke-width="1.3"/>
<text x="48.4" y="401.05" font-size="7.6" text-anchor="end" textLength="21.8" lengthAdjust="spacingAndGlyphs" fill="#1a1a1a" stroke="#1a1a1a" stroke-width="0.12">20000</text>
<line x1="50.8" y1="420.82" x2="54.4" y2="420.82" stroke="#000" stroke-width="1.3"/>
<text x="48.4" y="423.22" font-size="7.6" text-anchor="end" textLength="21.8" lengthAdjust="spacingAndGlyphs" fill="#1a1a1a" stroke="#1a1a1a" stroke-width="0.12">10000</text>
<line x1="50.8" y1="443" x2="54.4" y2="443" stroke="#000" stroke-width="1.3"/>
<text x="48.4" y="445.4" font-size="7.6" text-anchor="end" textLength="3.7" lengthAdjust="spacingAndGlyphs" fill="#1a1a1a" stroke="#1a1a1a" stroke-width="0.12">0</text>
<text x="20.2" y="398.2" font-size="9" text-anchor="middle" textLength="40.8" lengthAdjust="spacingAndGlyphs" transform="rotate(-90 20.2 398.2)" fill="#1a1a1a" stroke="#1a1a1a" stroke-width="0.12">MFI of CD64</text>
<rect x="56.6" y="437.8" width="7.2" height="5.2" fill="#0033a6"/>
<line x1="60.2" y1="437.1" x2="60.2" y2="438.3" stroke="#0033a6" stroke-width="1.1"/>
<line x1="58.1" y1="437.1" x2="62.3" y2="437.1" stroke="#0033a6" stroke-width="1.1"/>
<rect x="64.8" y="433.4" width="7.2" height="9.6" fill="#c8000f"/>
<line x1="68.4" y1="431.3" x2="68.4" y2="433.9" stroke="#c8000f" stroke-width="1.1"/>
<line x1="66.3" y1="431.3" x2="70.5" y2="431.3" stroke="#c8000f" stroke-width="1.1"/>
<rect x="73" y="435" width="7.2" height="8" fill="#40ff00"/>
<line x1="76.6" y1="434.3" x2="76.6" y2="435.5" stroke="#40ff00" stroke-width="1.1"/>
<line x1="74.5" y1="434.3" x2="78.7" y2="434.3" stroke="#40ff00" stroke-width="1.1"/>
<rect x="81.2" y="438.7" width="7.2" height="4.3" fill="#ff00ff"/>
<line x1="84.8" y1="438.1" x2="84.8" y2="439.2" stroke="#ff00ff" stroke-width="1.1"/>
<line x1="82.7" y1="438.1" x2="86.9" y2="438.1" stroke="#ff00ff" stroke-width="1.1"/>
<rect x="92.6" y="437.2" width="7.2" height="5.8" fill="#0033a6"/>
<line x1="96.2" y1="436.5" x2="96.2" y2="437.7" stroke="#0033a6" stroke-width="1.1"/>
<line x1="94.1" y1="436.5" x2="98.3" y2="436.5" stroke="#0033a6" stroke-width="1.1"/>
<rect x="100.8" y="427.8" width="7.2" height="15.2" fill="#c8000f"/>
<line x1="104.4" y1="425.6" x2="104.4" y2="428.3" stroke="#c8000f" stroke-width="1.1"/>
<line x1="102.3" y1="425.6" x2="106.5" y2="425.6" stroke="#c8000f" stroke-width="1.1"/>
<rect x="109" y="431.3" width="7.2" height="11.7" fill="#40ff00"/>
<line x1="112.6" y1="429.5" x2="112.6" y2="431.8" stroke="#40ff00" stroke-width="1.1"/>
<line x1="110.5" y1="429.5" x2="114.7" y2="429.5" stroke="#40ff00" stroke-width="1.1"/>
<rect x="117.2" y="437.8" width="7.2" height="5.2" fill="#ff00ff"/>
<line x1="120.8" y1="437.1" x2="120.8" y2="438.3" stroke="#ff00ff" stroke-width="1.1"/>
<line x1="118.7" y1="437.1" x2="122.9" y2="437.1" stroke="#ff00ff" stroke-width="1.1"/>
<rect x="129" y="420.3" width="7.2" height="22.7" fill="#0033a6"/>
<line x1="132.6" y1="417.5" x2="132.6" y2="420.8" stroke="#0033a6" stroke-width="1.1"/>
<line x1="130.5" y1="417.5" x2="134.7" y2="417.5" stroke="#0033a6" stroke-width="1.1"/>
<rect x="137.2" y="388" width="7.2" height="55" fill="#c8000f"/>
<line x1="140.8" y1="380.6" x2="140.8" y2="388.5" stroke="#c8000f" stroke-width="1.1"/>
<line x1="138.7" y1="380.6" x2="142.9" y2="380.6" stroke="#c8000f" stroke-width="1.1"/>
<rect x="145.4" y="383.1" width="7.2" height="59.9" fill="#40ff00"/>
<line x1="149" y1="376" x2="149" y2="383.6" stroke="#40ff00" stroke-width="1.1"/>
<line x1="146.9" y1="376" x2="151.1" y2="376" stroke="#40ff00" stroke-width="1.1"/>
<rect x="153.6" y="399.8" width="7.2" height="43.2" fill="#ff00ff"/>
<line x1="157.2" y1="398.6" x2="157.2" y2="400.3" stroke="#ff00ff" stroke-width="1.1"/>
<line x1="155.1" y1="398.6" x2="159.3" y2="398.6" stroke="#ff00ff" stroke-width="1.1"/>
<rect x="165.2" y="409.8" width="7.2" height="33.2" fill="#0033a6"/>
<line x1="168.8" y1="408.7" x2="168.8" y2="410.3" stroke="#0033a6" stroke-width="1.1"/>
<line x1="166.7" y1="408.7" x2="170.9" y2="408.7" stroke="#0033a6" stroke-width="1.1"/>
<rect x="173.4" y="391.9" width="7.2" height="51.1" fill="#c8000f"/>
<line x1="177" y1="387.6" x2="177" y2="392.4" stroke="#c8000f" stroke-width="1.1"/>
<line x1="174.9" y1="387.6" x2="179.1" y2="387.6" stroke="#c8000f" stroke-width="1.1"/>
<rect x="181.6" y="394.3" width="7.2" height="48.7" fill="#40ff00"/>
<line x1="185.2" y1="386.4" x2="185.2" y2="394.8" stroke="#40ff00" stroke-width="1.1"/>
<line x1="183.1" y1="386.4" x2="187.3" y2="386.4" stroke="#40ff00" stroke-width="1.1"/>
<rect x="189.8" y="406.7" width="7.2" height="36.3" fill="#ff00ff"/>
<line x1="193.4" y1="405.3" x2="193.4" y2="407.2" stroke="#ff00ff" stroke-width="1.1"/>
<line x1="191.3" y1="405.3" x2="195.5" y2="405.3" stroke="#ff00ff" stroke-width="1.1"/>
<line x1="54.4" y1="443" x2="200" y2="443" stroke="#000" stroke-width="1.3"/>
<line x1="72.4" y1="443" x2="72.4" y2="446" stroke="#000" stroke-width="1.3"/>
<line x1="108.7" y1="443" x2="108.7" y2="446" stroke="#000" stroke-width="1.3"/>
<line x1="144.8" y1="443" x2="144.8" y2="446" stroke="#000" stroke-width="1.3"/>
<line x1="181.2" y1="443" x2="181.2" y2="446" stroke="#000" stroke-width="1.3"/>
<path d="M67.9,420.1V414.7H84.9V420.1" stroke="#000" stroke-width="1.3" fill="none"/>
<polygon points="76.60,405.60 77.21,407.06 78.79,407.19 77.58,408.22 77.95,409.76 76.60,408.94 75.25,409.76 75.62,408.22 74.41,407.19 75.99,407.06" fill="#222"/>
<polygon points="68.10,425.20 68.71,426.66 70.29,426.79 69.08,427.82 69.45,429.36 68.10,428.54 66.75,429.36 67.12,427.82 65.91,426.79 67.49,426.66" fill="#222"/>
<path d="M104.6,413.8V408.3H121.6V413.8" stroke="#000" stroke-width="1.3" fill="none"/>
<polygon points="113.30,401.70 113.91,403.16 115.49,403.29 114.28,404.32 114.65,405.86 113.30,405.04 111.95,405.86 112.32,404.32 111.11,403.29 112.69,403.16" fill="#222"/>
<polygon points="103.90,416.90 104.51,418.36 106.09,418.49 104.88,419.52 105.25,421.06 103.90,420.24 102.55,421.06 102.92,419.52 101.71,418.49 103.29,418.36" fill="#222"/>
<path d="M140.7,371V365.4H157.6V371" stroke="#000" stroke-width="1.3" fill="none"/>
<polygon points="149.00,358.90 149.61,360.36 151.19,360.49 149.98,361.52 150.35,363.06 149.00,362.24 147.65,363.06 148.02,361.52 146.81,360.49 148.39,360.36" fill="#222"/>
<polygon points="140.70,375.20 141.31,376.66 142.89,376.79 141.68,377.82 142.05,379.36 140.70,378.54 139.35,379.36 139.72,377.82 138.51,376.79 140.09,376.66" fill="#222"/>
<path d="M177.1,374V368.6H194.5V374" stroke="#000" stroke-width="1.3" fill="none"/>
<polygon points="186.00,362.40 186.61,363.86 188.19,363.99 186.98,365.02 187.35,366.56 186.00,365.74 184.65,366.56 185.02,365.02 183.81,363.99 185.39,363.86" fill="#222"/>
<polygon points="176.70,378.40 177.31,379.86 178.89,379.99 177.68,381.02 178.05,382.56 176.70,381.74 175.35,382.56 175.72,381.02 174.51,379.99 176.09,379.86" fill="#222"/>
<rect x="201.5" y="354.2" width="9.3" height="3.8" fill="#0033a6"/>
<text x="214" y="358" font-size="8.4" textLength="45.3" lengthAdjust="spacingAndGlyphs" fill="#1a1a1a" stroke="#1a1a1a" stroke-width="0.12">Control mice</text>
<rect x="201.5" y="364.2" width="9.3" height="3.8" fill="#c8000f"/>
<text x="214" y="368.4" font-size="8.4" textLength="38.6" lengthAdjust="spacingAndGlyphs" fill="#1a1a1a" stroke="#1a1a1a" stroke-width="0.12">Sickle mice</text>
<rect x="201.5" y="374.5" width="9.3" height="3.8" fill="#40ff00"/>
<text x="214" y="378.7" font-size="8.4" textLength="87" lengthAdjust="spacingAndGlyphs" fill="#1a1a1a" stroke="#1a1a1a" stroke-width="0.12">Sickle mice + Isotype Ab</text>
<rect x="201.5" y="384.9" width="9.3" height="3.8" fill="#ff00ff"/>
<text x="214" y="389.1" font-size="8.4" textLength="105.4" lengthAdjust="spacingAndGlyphs" fill="#1a1a1a" stroke="#1a1a1a" stroke-width="0.12">Sickle mice + Anti-IFNAR1 Ab</text>
<text x="355.2" y="350.9" font-size="11" font-weight="bold" fill="#000">G</text>
<line x1="397.9" y1="353.35" x2="397.9" y2="443.55" stroke="#000" stroke-width="1.3"/>
<line x1="394.8" y1="354" x2="397.9" y2="354" stroke="#000" stroke-width="1.3"/>
<text x="392" y="356.6" font-size="8" text-anchor="end" textLength="11.8" lengthAdjust="spacingAndGlyphs" fill="#1a1a1a" stroke="#1a1a1a" stroke-width="0.12">100</text>
<line x1="394.8" y1="371.78" x2="397.9" y2="371.78" stroke="#000" stroke-width="1.3"/>
<text x="392" y="374.38" font-size="8" text-anchor="end" textLength="8" lengthAdjust="spacingAndGlyphs" fill="#1a1a1a" stroke="#1a1a1a" stroke-width="0.12">80</text>
<line x1="394.8" y1="389.56" x2="397.9" y2="389.56" stroke="#000" stroke-width="1.3"/>
<text x="392" y="392.16" font-size="8" text-anchor="end" textLength="8" lengthAdjust="spacingAndGlyphs" fill="#1a1a1a" stroke="#1a1a1a" stroke-width="0.12">60</text>
<line x1="394.8" y1="407.34" x2="397.9" y2="407.34" stroke="#000" stroke-width="1.3"/>
<text x="392" y="409.94" font-size="8" text-anchor="end" textLength="8" lengthAdjust="spacingAndGlyphs" fill="#1a1a1a" stroke="#1a1a1a" stroke-width="0.12">40</text>
<line x1="394.8" y1="425.12" x2="397.9" y2="425.12" stroke="#000" stroke-width="1.3"/>
<text x="392" y="427.72" font-size="8" text-anchor="end" textLength="8" lengthAdjust="spacingAndGlyphs" fill="#1a1a1a" stroke="#1a1a1a" stroke-width="0.12">20</text>
<line x1="394.8" y1="442.9" x2="397.9" y2="442.9" stroke="#000" stroke-width="1.3"/>
<text x="392" y="445.5" font-size="8" text-anchor="end" textLength="4" lengthAdjust="spacingAndGlyphs" fill="#1a1a1a" stroke="#1a1a1a" stroke-width="0.12">0</text>
<text x="362.9" y="398.6" font-size="10.3" text-anchor="middle" textLength="43.4" lengthAdjust="spacingAndGlyphs" transform="rotate(-90 362.9 398.6)" fill="#1a1a1a" stroke="#1a1a1a" stroke-width="0.12">% Survival of</text>
<text x="375" y="398.2" font-size="10.3" text-anchor="middle" textLength="46.9" lengthAdjust="spacingAndGlyphs" transform="rotate(-90 375 398.2)" fill="#1a1a1a" stroke="#1a1a1a" stroke-width="0.12">tranfused RBC</text>
<rect x="399.8" y="357.3" width="11.1" height="85.6" fill="#0033a6"/>
<line x1="405.35" y1="356.1" x2="405.35" y2="357.8" stroke="#0033a6" stroke-width="1.1"/>
<line x1="402.85" y1="356.1" x2="407.85" y2="356.1" stroke="#0033a6" stroke-width="1.1"/>
<rect x="412.25" y="372.1" width="11.1" height="70.8" fill="#c8000f"/>
<line x1="417.8" y1="369.3" x2="417.8" y2="372.6" stroke="#c8000f" stroke-width="1.1"/>
<line x1="415.3" y1="369.3" x2="420.3" y2="369.3" stroke="#c8000f" stroke-width="1.1"/>
<rect x="424.7" y="370.5" width="11.1" height="72.4" fill="#40ff00"/>
<line x1="430.25" y1="366.9" x2="430.25" y2="371" stroke="#40ff00" stroke-width="1.1"/>
<line x1="427.75" y1="366.9" x2="432.75" y2="366.9" stroke="#40ff00" stroke-width="1.1"/>
<rect x="437.15" y="369.8" width="11.1" height="73.1" fill="#ff00ff"/>
<line x1="442.7" y1="368.1" x2="442.7" y2="370.3" stroke="#ff00ff" stroke-width="1.1"/>
<line x1="440.2" y1="368.1" x2="445.2" y2="368.1" stroke="#ff00ff" stroke-width="1.1"/>
<rect x="454.6" y="374.2" width="11.1" height="68.7" fill="#0033a6"/>
<line x1="460.15" y1="372.9" x2="460.15" y2="374.7" stroke="#0033a6" stroke-width="1.1"/>
<line x1="457.65" y1="372.9" x2="462.65" y2="372.9" stroke="#0033a6" stroke-width="1.1"/>
<rect x="467.05" y="390.7" width="11.1" height="52.2" fill="#c8000f"/>
<line x1="472.6" y1="387.1" x2="472.6" y2="391.2" stroke="#c8000f" stroke-width="1.1"/>
<line x1="470.1" y1="387.1" x2="475.1" y2="387.1" stroke="#c8000f" stroke-width="1.1"/>
<rect x="479.5" y="389" width="11.1" height="53.9" fill="#40ff00"/>
<line x1="485.05" y1="387.1" x2="485.05" y2="389.5" stroke="#40ff00" stroke-width="1.1"/>
<line x1="482.55" y1="387.1" x2="487.55" y2="387.1" stroke="#40ff00" stroke-width="1.1"/>
<rect x="491.95" y="377.1" width="11.1" height="65.8" fill="#ff00ff"/>
<line x1="497.5" y1="374.8" x2="497.5" y2="377.6" stroke="#ff00ff" stroke-width="1.1"/>
<line x1="495" y1="374.8" x2="500" y2="374.8" stroke="#ff00ff" stroke-width="1.1"/>
<line x1="397.9" y1="442.9" x2="513.5" y2="442.9" stroke="#000" stroke-width="1.3"/>
<line x1="426.1" y1="442.9" x2="426.1" y2="445.9" stroke="#000" stroke-width="1.3"/>
<line x1="484.2" y1="442.9" x2="484.2" y2="445.9" stroke="#000" stroke-width="1.3"/>
<polygon points="418.10,362.40 418.71,363.86 420.29,363.99 419.08,365.02 419.45,366.56 418.10,365.74 416.75,366.56 417.12,365.02 415.91,363.99 417.49,363.86" fill="#222"/>
<polygon points="460.20,364.80 460.81,366.26 462.39,366.39 461.18,367.42 461.55,368.96 460.20,368.14 458.85,368.96 459.22,367.42 458.01,366.39 459.59,366.26" fill="#222"/>
<polygon points="472.10,379.10 472.71,380.56 474.29,380.69 473.08,381.72 473.45,383.26 472.10,382.44 470.75,383.26 471.12,381.72 469.91,380.69 471.49,380.56" fill="#222"/>
<path d="M484.5,371V365.7H498.8V371" stroke="#000" stroke-width="1.3" fill="none"/>
<polygon points="491.70,358.90 492.31,360.36 493.89,360.49 492.68,361.52 493.05,363.06 491.70,362.24 490.35,363.06 490.72,361.52 489.51,360.49 491.09,360.36" fill="#222"/>
</g>
</svg>
<div class="wrap"></div>
</body></html>
